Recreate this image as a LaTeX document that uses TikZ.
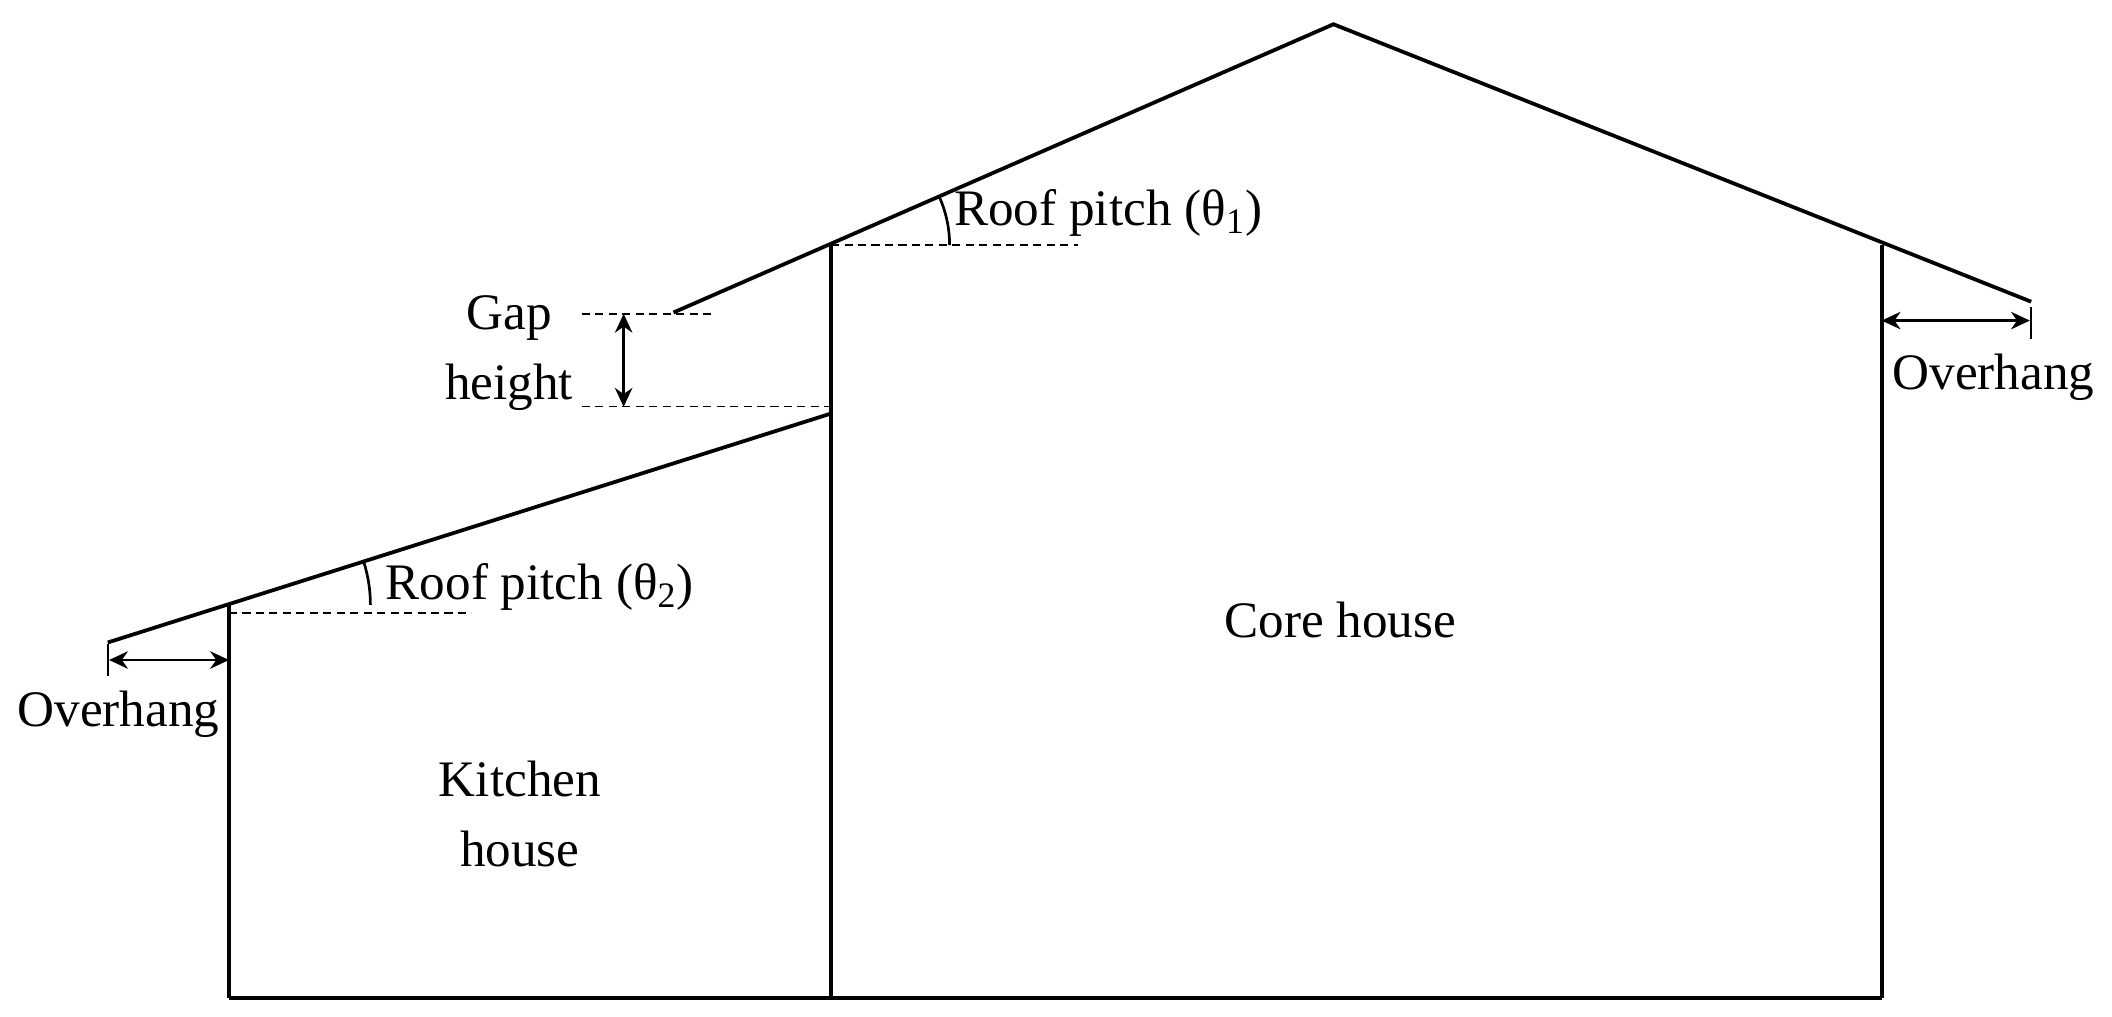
\documentclass[tikz,border=0pt]{standalone}
\usepackage{fontspec}
\setmainfont{Liberation Serif}
\usetikzlibrary{arrows.meta}
\begin{document}
\begin{tikzpicture}[x=0.5pt,y=-0.5pt,
  wall/.style={line width=1.4pt},
  dsh/.style={dash pattern=on 3pt off 2pt,line width=0.5pt},
  dim/.style={line width=0.9pt,{Stealth[length=7pt,width=6.5pt]}-{Stealth[length=7pt,width=6.5pt]}},
  lab/.style={font=\fontsize{19}{22}\selectfont,align=center,inner sep=0pt}]
\useasboundingbox (0,0) rectangle (1568,755);
\coordinate (apex) at (990,18);
\coordinate (rl) at (500,232);
\coordinate (rr) at (1508,224);
\coordinate (cl) at (617,182);
\coordinate (cr) at (1397,182);
\coordinate (fl) at (170,741);
\coordinate (fm) at (617,741);
\coordinate (fr) at (1397,741);
\coordinate (kl) at (80,477);
\coordinate (kr) at (617,307);
\coordinate (kw) at (170,449);
\draw[wall] (rl) -- (apex) -- (rr);
\draw[wall] (cl) -- (fm);
\draw[wall] (cr) -- (fr);
\draw[wall] (fl) -- (fr);
\draw[wall] (kl) -- (kr);
\draw[wall] (kw) -- (fl);
% dashed
\coordinate (d1e) at (800,182);
\draw[dsh] (cl) -- (d1e);
\coordinate (d2s) at (170,455); \coordinate (d2e) at (350,455);
\draw[dsh] (d2s) -- (d2e);
\coordinate (g1s) at (432,233); \coordinate (g1e) at (530,233);
\draw[dsh] (g1s) -- (g1e);
\coordinate (g2s) at (432,302); \coordinate (g2e) at (617,302);
\draw[dsh] (g2s) -- (g2e);
% gap arrow
\coordinate (ga) at (463,233); \coordinate (gb) at (463,302);
\draw[dim] (ga) -- (gb);
\node[lab] (gap) at (378,262) {Gap\\[4pt]height};
% pitch arcs
\draw[line width=1pt] ([shift={(0:88)}]cl) arc[start angle=0,end angle=-23.7,radius=88];
\draw[line width=1pt] ([shift={(0:105)}]kw) arc[start angle=0,end angle=-17.6,radius=105];
\node[lab,anchor=west] (p1) at (708,158) {Roof pitch (θ\textsubscript{1})};
\node[lab,anchor=west] (p2) at (286,436) {Roof pitch (θ\textsubscript{2})};
% overhangs
\coordinate (oa) at (1397,238); \coordinate (ob) at (1507,238);
\draw[dim] (oa) -- (ob);
\coordinate (t1) at (1508,228); \coordinate (t2) at (1508,252);
\draw[line width=0.8pt] (t1) -- (t2);
\node[lab] (o1) at (1480,280) {Overhang};
\coordinate (oc) at (81,490); \coordinate (od) at (170,490);
\draw[dim] (oc) -- (od);
\coordinate (t3) at (80,478); \coordinate (t4) at (80,502);
\draw[line width=0.8pt] (t3) -- (t4);
\node[lab] (o2) at (88,530) {Overhang};
\node[lab] (k) at (386,604) {Kitchen\\[4pt]house};
\node[lab] (c) at (995,460) {Core house};
\end{tikzpicture}
\end{document}
